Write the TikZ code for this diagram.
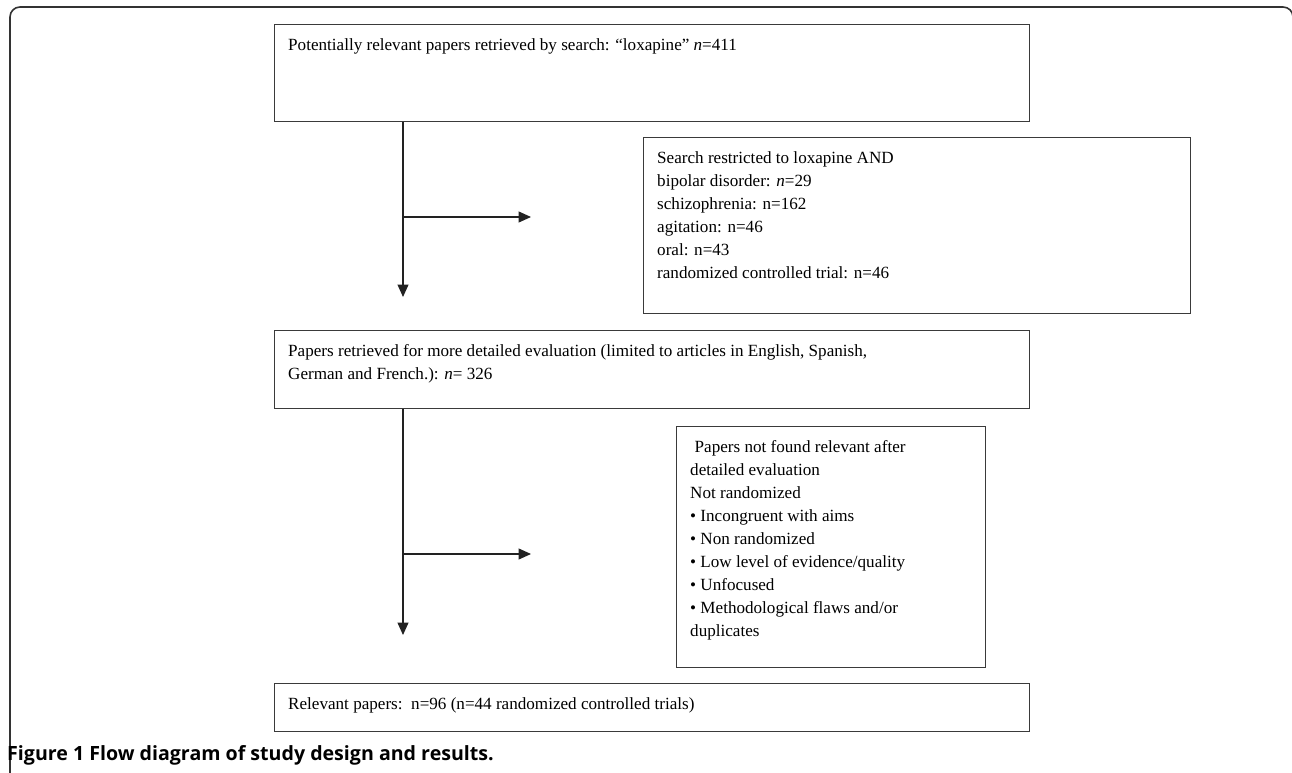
\documentclass[tikz,border=0pt]{standalone}
\usepackage{fontspec}
\setmainfont{Liberation Serif}
\newfontfamily\capfont{Open Sans}
\usetikzlibrary{arrows.meta}
\definecolor{boxgray}{HTML}{3A3A3A}
\definecolor{framegray}{HTML}{333333}
\definecolor{linegray}{HTML}{222222}
\begin{document}
\begin{tikzpicture}[x=1pt,y=-1pt,
  box/.style={draw=boxgray, line width=1.3pt, inner sep=0pt, anchor=north west},
  txt/.style={inner sep=0pt, anchor=north west, align=left, font=\fontsize{17.1}{23}\selectfont},
  flow/.style={draw=linegray, line width=1.2pt, -{Triangle[length=12.5pt,width=11pt]}}]
\useasboundingbox (0,0) rectangle (1292,773);
% outer frame
\draw[framegray, line width=1.6pt, rounded corners=10pt] (10,800) -- (10,7) -- (1293,7) -- (1293,800);
% boxes
\node[box, minimum width=755pt, minimum height=97pt] (b1) at (274,24) {};
\node[box, minimum width=547pt, minimum height=176pt] (b2) at (643,137) {};
\node[box, minimum width=755pt, minimum height=78pt] (b3) at (274,330) {};
\node[box, minimum width=309pt, minimum height=241pt] (b4) at (676,426) {};
\node[box, minimum width=755pt, minimum height=48pt] (b5) at (274,683) {};
% texts
\node[txt] (t1) at ([shift={(14,14)}]b1.north west) {Potentially relevant papers retrieved by search: “loxapine” \textit{n}=411};
\node[txt] (t2) at ([shift={(14,14)}]b2.north west) {Search restricted to loxapine AND\\bipolar disorder: \textit{n}=29\\schizophrenia: n=162\\agitation: n=46\\oral: n=43\\randomized controlled trial: n=46};
\node[txt] (t3) at ([shift={(14,14)}]b3.north west) {Papers retrieved for more detailed evaluation (limited to articles in English, Spanish,\\German and French.): \textit{n}= 326};
\node[txt] (t4) at ([shift={(14,14)}]b4.north west) {\hspace{4.5pt}Papers not found relevant after\\detailed evaluation\\Not randomized\\• Incongruent with aims\\• Non randomized\\• Low level of evidence/quality\\• Unfocused\\• Methodological flaws and/or\\duplicates};
\node[txt] (t5) at ([shift={(14,14)}]b5.north west) {Relevant papers:\ \ n=96 (n=44 randomized controlled trials)};
% caption
\node[anchor=base west, inner sep=0pt, font=\capfont\bfseries\fontsize{19.6}{22}\selectfont] (cap) at (7,760) {Figure 1 Flow diagram of study design and results.};
% connectors
\coordinate (s1) at ([xshift=129pt]b1.south west);
\coordinate (e1) at (403,297);
\coordinate (j1) at (403,217);
\coordinate (h1) at (531,217);
\draw[flow] (s1) -- (e1);
\draw[flow] (j1) -- (h1);
\coordinate (s2) at ([xshift=129pt]b3.south west);
\coordinate (e2) at (403,635);
\coordinate (j2) at (403,554);
\coordinate (h2) at (531,554);
\draw[flow] (s2) -- (e2);
\draw[flow] (j2) -- (h2);
\end{tikzpicture}
\end{document}
